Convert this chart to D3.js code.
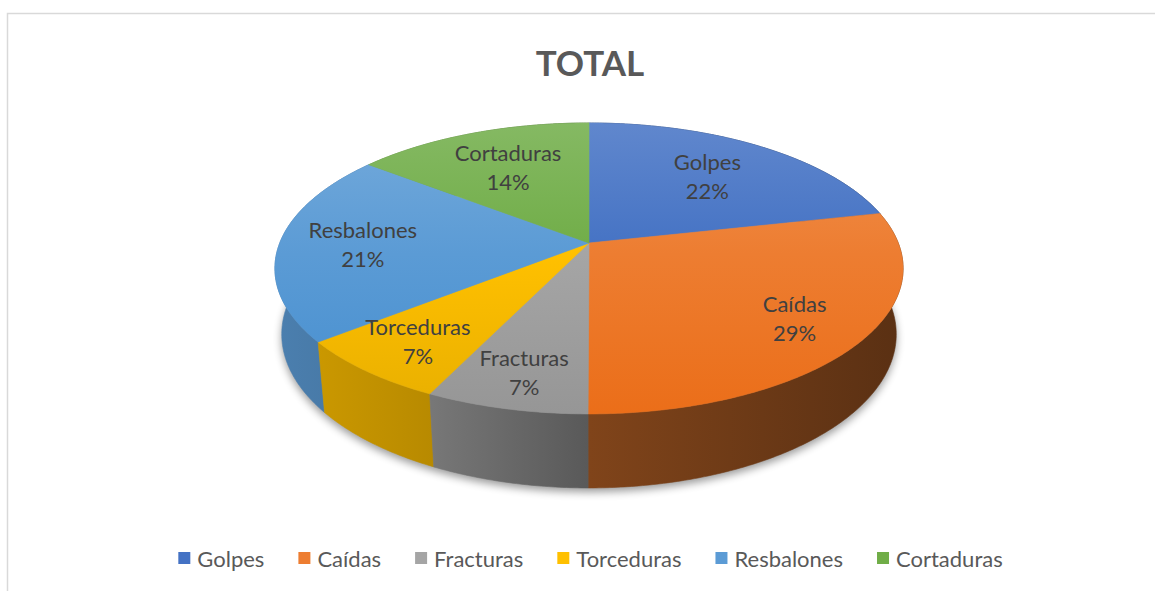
<!DOCTYPE html>
<html><head><meta charset="utf-8">
<script src="https://cdn.jsdelivr.net/npm/d3@7"></script>
<style>body{margin:0;background:#fff} svg{display:block}</style>
</head><body>
<svg id="chart" width="1155" height="591"></svg>
<script>
const categories = ["Golpes","Caídas","Fracturas","Torceduras","Resbalones","Cortaduras"];
const values = [21.52, 28.52, 7.1, 7.1, 21.3, 14.46];
const colors = ["#4472C4","#ED7D31","#A5A5A5","#FFC000","#5B9BD5","#70AD47"];
const chartTitle = "TOTAL";

const W = 1155, H = 591;
const FONT = "Lato, 'Open Sans', 'DejaVu Sans', sans-serif";
const svg = d3.select("#chart");
const defs = svg.append("defs");

// chart frame
svg.append("path").attr("d","M7.5,591 V13.5 H1155")
  .attr("fill","none").attr("stroke","#d9d9d9").attr("stroke-width",1.5);

// title
svg.append("text").attr("x",590).attr("y",62).attr("text-anchor","middle")
  .attr("dominant-baseline","central").attr("font-family",FONT)
  .attr("font-weight","bold").attr("font-size",35).attr("fill","#595959").text(chartTitle);

// perspective projection of a tilted disc
const cam = {cx:589, cy:243, f:1573, d:1, R:0.1966, D:0.0474, s:0.456};
cam.c = Math.sqrt(1 - cam.s*cam.s);
function project(theta, r, h){
  const x = r*cam.R*Math.sin(theta), z = -r*cam.R*Math.cos(theta);
  const Y = z*cam.s - h*cam.c;
  const depth = cam.d - z*cam.c - h*cam.s;
  return [cam.cx + cam.f*x/depth, cam.cy + cam.f*Y/depth];
}
function arcPts(a0, a1, h){
  const n = Math.max(2, Math.ceil(Math.abs(a1-a0)/0.01));
  return d3.range(n+1).map(i => project(a0 + (a1-a0)*i/n, 1, h));
}
const line = d3.line();

const pie = d3.pie().sort(null).value(d => d);
const arcs = pie(values);
const total = d3.sum(values);

function scaleCol(col, f){ const c = d3.rgb(col); return d3.rgb(c.r*f, c.g*f, c.b*f).formatHex(); }
function mixWhite(col, t){ return d3.interpolateRgb(col, "#ffffff")(t); }
function darkL(col, f){ const h = d3.hsl(col); h.l *= f; return h.formatHex(); }

// shadow
const shadowF = defs.append("filter").attr("id","shadow").attr("x","-20%").attr("y","-20%").attr("width","140%").attr("height","140%");
shadowF.append("feGaussianBlur").attr("stdDeviation",4);
const bottomAll = arcPts(0, 2*Math.PI, -cam.D);
svg.append("path").attr("d", line(bottomAll)+"Z").attr("transform","translate(0,4)")
  .attr("fill","#000").attr("opacity",0.4).attr("filter","url(#shadow)");

// gradients
arcs.forEach((a,i) => {
  const gw = defs.append("linearGradient").attr("id","wall"+i).attr("gradientUnits","userSpaceOnUse")
    .attr("x1",275).attr("x2",903).attr("y1",0).attr("y2",0);
  [[0,0.82],[0.25,0.72],[0.5,0.54],[1,0.38]].forEach(([o,f]) =>
    gw.append("stop").attr("offset",o).attr("stop-color",scaleCol(colors[i],f)));
  const gt = defs.append("linearGradient").attr("id","top"+i).attr("gradientUnits","userSpaceOnUse")
    .attr("x1",0).attr("x2",0).attr("y1",123).attr("y2",414);
  gt.append("stop").attr("offset",0).attr("stop-color",mixWhite(colors[i],0.15));
  gt.append("stop").attr("offset",0.45).attr("stop-color",colors[i]);
  gt.append("stop").attr("offset",1).attr("stop-color",darkL(colors[i],0.91));
});

// walls, back to front
const order = arcs.map((a,i)=>i).sort((p,q) => {
  const zp = -Math.cos((arcs[p].startAngle+arcs[p].endAngle)/2);
  const zq = -Math.cos((arcs[q].startAngle+arcs[q].endAngle)/2);
  return zp - zq;
});
const gWalls = svg.append("g");
order.forEach(i => {
  const a = arcs[i];
  const pts = arcPts(a.startAngle, a.endAngle, 0).concat(arcPts(a.endAngle, a.startAngle, -cam.D));
  gWalls.append("path").attr("d", line(pts)+"Z").attr("fill","url(#wall"+i+")")
    .attr("stroke","url(#wall"+i+")").attr("stroke-width",0.6);
});

// top faces
const gTop = svg.append("g");
arcs.forEach((a,i) => {
  const pts = [project(0,0,0)].concat(arcPts(a.startAngle, a.endAngle, 0));
  gTop.append("path").attr("d", line(pts)+"Z").attr("fill","url(#top"+i+")")
    .attr("stroke","url(#top"+i+")").attr("stroke-width",0.6);
});

// labels
const gLab = svg.append("g").attr("font-family",FONT).attr("font-size",22).attr("fill","#404040")
  .attr("text-anchor","middle").attr("dominant-baseline","central");
arcs.forEach((a,i) => {
  const m = (a.startAngle + a.endAngle)/2;
  const k = 0.73 - 0.08*Math.cos(m);
  const [lx, ly] = project(m, k, 0);
  gLab.append("text").attr("x",lx).attr("y",ly-14.5).text(categories[i]);
  gLab.append("text").attr("x",lx).attr("y",ly+14.5).text(Math.round(values[i]/total*100)+"%");
});

// legend
const gLeg = svg.append("g").attr("font-family",FONT).attr("font-size",22).attr("fill","#595959");
const items = categories.map((c,i) => {
  const g = gLeg.append("g");
  g.append("rect").attr("width",12).attr("height",12).attr("y",-6).attr("fill",colors[i]);
  const t = g.append("text").attr("x",19).attr("dominant-baseline","central").text(c);
  return {g, w: 19 + t.node().getComputedTextLength()};
});
const gap = 34;
const totalW = d3.sum(items, d => d.w) + gap*(items.length-1);
let x0 = 590.5 - totalW/2;
items.forEach(it => { it.g.attr("transform",`translate(${x0},558)`); x0 += it.w + gap; });
</script>
</body></html>
